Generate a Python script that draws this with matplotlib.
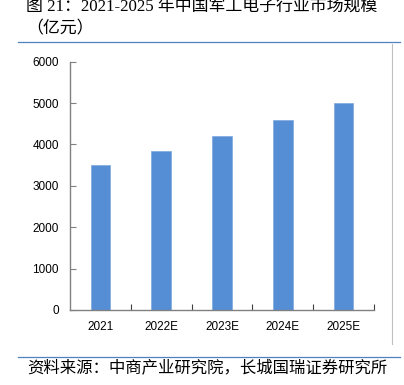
import matplotlib.pyplot as plt
from matplotlib.lines import Line2D

years = ['2021', '2022E', '2023E', '2024E', '2025E']
market_size = [3500, 3850, 4200, 4600, 5000]
yticks = [0, 1000, 2000, 3000, 4000, 5000, 6000]

title_text = '图 21：2021-2025 年中国军工电子行业市场规模\n（亿元）'
source_text = '资料来源：中商产业研究院，长城国瑞证券研究所'

W, H = 404, 385
fig = plt.figure(figsize=(W / 100, H / 100), dpi=100)

# plot area in pixels: left 70, right 374, top 61.7, bottom 310
ax = fig.add_axes([70 / W, 1 - 310 / H, 304 / W, (310 - 61.7) / H])

x = range(len(years))
ax.bar(x, market_size, width=0.32, color='#558ED5', edgecolor='#7FA9DE', linewidth=0.5)

ax.set_xlim(-0.5, len(years) - 0.5)
ax.set_ylim(0, 6000)
ax.set_yticks(yticks)
ax.set_xticks([i + 0.5 for i in x])
ax.set_xticklabels([])
ax.set_xticks(list(x), minor=True)
ax.set_xticklabels(years, minor=True)

for side in ['top', 'right']:
    ax.spines[side].set_visible(False)
for side in ['left', 'bottom']:
    ax.spines[side].set_color('#808080')
    ax.spines[side].set_linewidth(1.0)

ax.tick_params(axis='y', direction='in', length=4, color='#808080', labelsize=8.5, pad=8)
ax.tick_params(axis='x', which='major', direction='in', length=4, color='#404040')
ax.tick_params(axis='x', which='minor', length=0, labelsize=8.5, pad=8)
for lab in ax.get_yticklabels() + ax.get_xticklabels(minor=True):
    lab.set_fontfamily('Liberation Sans')

# title
fig.text(26 / W, 1 + 1 / H, title_text, ha='left', va='top', fontsize=12.2,
         family=['Liberation Serif', 'Noto Sans CJK SC'], linespacing=1.5)

# decorative frame lines
fig.add_artist(Line2D([18 / W, 400 / W], [1 - 42 / H, 1 - 42 / H], color='#4F81BD', lw=0.9))
fig.add_artist(Line2D([392 / W, 392 / W], [1 - 44 / H, 1 - 344 / H], color='#BFBFBF', lw=0.8))
fig.add_artist(Line2D([18 / W, 400 / W], [1 - 357 / H, 1 - 357 / H], color='#4F81BD', lw=0.9))

# source
fig.text(27 / W, 1 - 369 / H, source_text, ha='left', va='center', fontsize=11.8,
         family=['Noto Sans CJK SC', 'DejaVu Sans'])

fig.savefig('out.png', dpi=100)
